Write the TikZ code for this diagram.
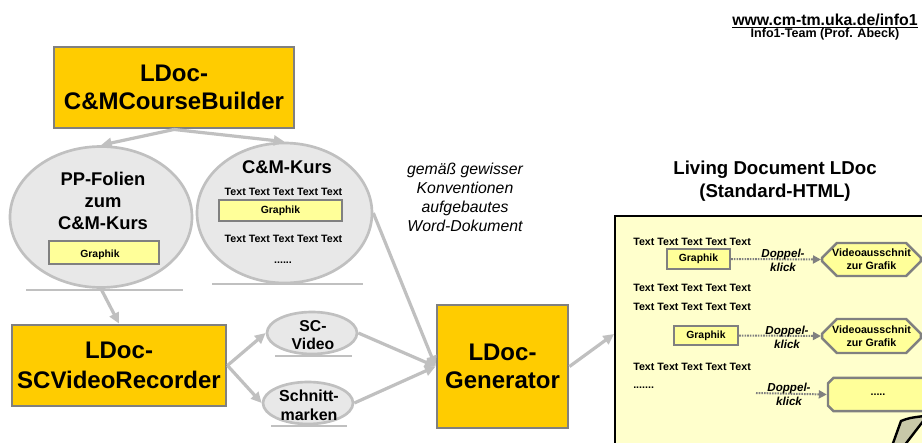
\documentclass[tikz,border=0pt]{standalone}
\usepackage{fontspec}
\setmainfont{Liberation Sans}
\usetikzlibrary{arrows.meta,shapes.geometric,shapes.misc}
\definecolor{gold}{HTML}{FFCC00}
\definecolor{bgray}{HTML}{808080}
\definecolor{lgray}{HTML}{C0C0C0}
\definecolor{efill}{HTML}{E8E8E8}
\definecolor{gfill}{HTML}{FFFF99}
\definecolor{ldfill}{HTML}{FFFFCC}
\definecolor{curfill}{HTML}{C8C8A8}
\begin{document}
\begin{tikzpicture}[x=0.75pt,y=-0.75pt,
  goldbox/.style={draw=bgray,line width=2.2pt,fill=gold,inner sep=0pt,align=center,
    font=\fontsize{18}{21.5}\selectfont\bfseries},
  ell/.style={ellipse,draw=lgray,line width=2pt,fill=efill,inner sep=0pt},
  ground/.style={draw=lgray,line width=2pt},
  gbox/.style={draw=bgray,line width=1.8pt,fill=gfill,inner sep=0pt,
    font=\fontsize{7.8}{9}\selectfont\bfseries},
  octo/.style={chamfered rectangle,chamfered rectangle xsep=7.5pt,draw=bgray,line width=1.8pt,
    fill=gfill,inner sep=0pt,align=center,font=\fontsize{8}{9.75}\selectfont\bfseries},
  titf/.style={inner sep=0pt,align=center,font=\fontsize{13.8}{16.5}\selectfont\bfseries},
  txtf/.style={inner sep=0pt,font=\fontsize{8}{9.6}\selectfont\bfseries},
  medf/.style={inner sep=0pt,align=center,font=\fontsize{11.8}{13.5}\selectfont\bfseries},
  itf/.style={inner sep=0pt,align=center,font=\fontsize{11.85}{14.25}\selectfont\itshape},
  ldtf/.style={inner sep=0pt,align=center,font=\fontsize{14}{17.25}\selectfont\bfseries},
  dkf/.style={inner sep=0pt,align=center,font=\fontsize{8.7}{10.5}\selectfont\bfseries\itshape},
  conn/.style={draw=lgray,line width=2.4pt,-{Triangle[length=8pt,width=7.5pt]}},
  dotarrow/.style={draw=bgray,line width=1.5pt,dash pattern=on 1.2pt off 0.8pt,
    -{Triangle[length=6pt,width=6pt]}}
]
\useasboundingbox (0,0) rectangle (922,443);
\clip (0,0) rectangle (922,443);
\fill[white] (0,0) rectangle (922,443);

% header
\node[inner sep=0pt,anchor=base,font=\fontsize{11.9}{14}\selectfont\bfseries] (url) at (825,25.5) {\underline{www.cm-tm.uka.de/info1}};
\node[inner sep=0pt,anchor=base,font=\fontsize{9.4}{11}\selectfont\bfseries] (team) at (825,37.5) {Info1-Team (Prof. Abeck)};

% course builder
\node[goldbox,minimum width=180pt,minimum height=60.75pt] (cb) at (174,87.5) {LDoc-\\C\&MCourseBuilder};

% PP-Folien ellipse
\draw[ground] (26,290) -- (183,290);
\node[ell,minimum width=136.5pt,minimum height=105.75pt] (pp) at (101,217) {};
\node[titf] (pptitle) at (103,200.5) {PP-Folien\\zum\\C\&M-Kurs};
\node[gbox,minimum width=82.5pt,minimum height=17.25pt] (ppg) at (104,252.5) {};
\node[txtf,font=\fontsize{7.8}{9}\selectfont\bfseries] (ppgt) at (100,255) {Graphik};

% C&M-Kurs ellipse
\draw[ground] (212,284) -- (363,284);
\node[ell,minimum width=131.25pt,minimum height=105pt] (cm) at (284.5,213) {};
\node[titf] (cmtitle) at (287,167) {C\&M-Kurs};
\node[txtf] (cmt1) at (283.5,192) {Text Text Text Text Text};
\node[gbox,minimum width=92.25pt,minimum height=15.75pt] (cmg) at (280.5,210.5) {Graphik};
\node[txtf] (cmt2) at (283.5,239) {Text Text Text Text Text};
\node[txtf] (cmdots) at (283,263) {......};

% SCVideoRecorder
\node[goldbox,minimum width=160.5pt,minimum height=60.75pt,font=\fontsize{18}{23}\selectfont\bfseries] (scvr) at (119,365.5) {LDoc-\\SCVideoRecorder};

% SC-Video, Schnittmarken
\draw[ground] (275,356) -- (352,356);
\node[ell,minimum width=67.5pt,minimum height=31.5pt] (scv) at (312,333) {};
\node[medf] (scvt) at (313,335.5) {SC-\\Video};
\draw[ground] (271,426) -- (347,426);
\node[ell,minimum width=67.5pt,minimum height=31.5pt] (sm) at (308,403) {};
\node[medf,font=\fontsize{12}{14.5}\selectfont\bfseries] (smt) at (309,405) {Schnitt-\\marken};

% Generator
\node[goldbox,minimum width=98.25pt,minimum height=92.25pt] (gen) at (502.5,366.5) {LDoc-\\Generator};

% italic note
\node[itf] (word) at (465,197.5) {gemäß gewisser\\Konventionen\\aufgebautes\\Word-Dokument};

% Living document
\node[ldtf] (ldt) at (775,181.5) {Living Document LDoc\\(Standard-HTML)};
\node[fill=ldfill,inner sep=0pt,anchor=north west,
  minimum width=247.5pt,minimum height=240pt] (ld) at (615,216) {};
\draw[black,line width=1.9pt] (ld.south west) -- (ld.north west) -- (ld.north east);
\node[txtf,anchor=west] (l1) at (633,242) {Text Text Text Text Text};
\node[gbox,minimum width=47.25pt,minimum height=15pt] (g1) at (698.5,259) {Graphik};
\node[txtf,anchor=west] (l2) at (633,288) {Text Text Text Text Text};
\node[txtf,anchor=west] (l3) at (633,307) {Text Text Text Text Text};
\node[gbox,minimum width=48pt,minimum height=14.25pt] (g2) at (706,335.5) {Graphik};
\node[txtf,anchor=west] (l4) at (633,367) {Text Text Text Text Text};
\node[txtf,anchor=west] (l5) at (633,388) {.......};

\node[octo,minimum width=72.75pt,minimum height=24.75pt] (o1) at (871.5,259.5) {Videoausschnit\\zur Grafik};
\node[octo,minimum width=72.75pt,minimum height=25.5pt] (o2) at (871.5,336) {Videoausschnit\\zur Grafik};
\node[octo,minimum width=75pt,minimum height=25pt] (o3) at (878,394.5) {.....};

\coordinate (d3) at (756,393);
\draw[dotarrow] (g1.east) -- (o1.west);
\draw[dotarrow] (g2.east) -- (o2.west);
\draw[dotarrow] (d3) -- (o3.west);
\node[dkf] (dk1) at (783,260) {Doppel-\\klick};
\node[dkf] (dk2) at (787,337) {Doppel-\\klick};
\node[dkf] (dk3) at (789,394) {Doppel-\\klick};

% cursor
\draw[black,line width=1.8pt,fill=curfill,line join=round]
  (892,446) -- (901,421) .. controls (909,418) .. (924,416) -- (924,420) -- (904,446) -- cycle;

% connectors
\coordinate (ldin) at (614,334);
\draw[conn] (cb.south) -- (pp.north);
\draw[conn] (cb.south) -- (cm.north);
\draw[conn] (pp.south) -- (scvr.north);
\draw[conn] (scvr.east) -- (scv.west);
\draw[conn] (scvr.east) -- (sm.west);
\draw[conn] (scv.east) -- (gen.west);
\draw[conn] (sm.east) -- (gen.west);
\draw[conn] (cm.east) -- (gen.west);
\draw[conn] (gen.east) -- (ldin);
\end{tikzpicture}
\end{document}
